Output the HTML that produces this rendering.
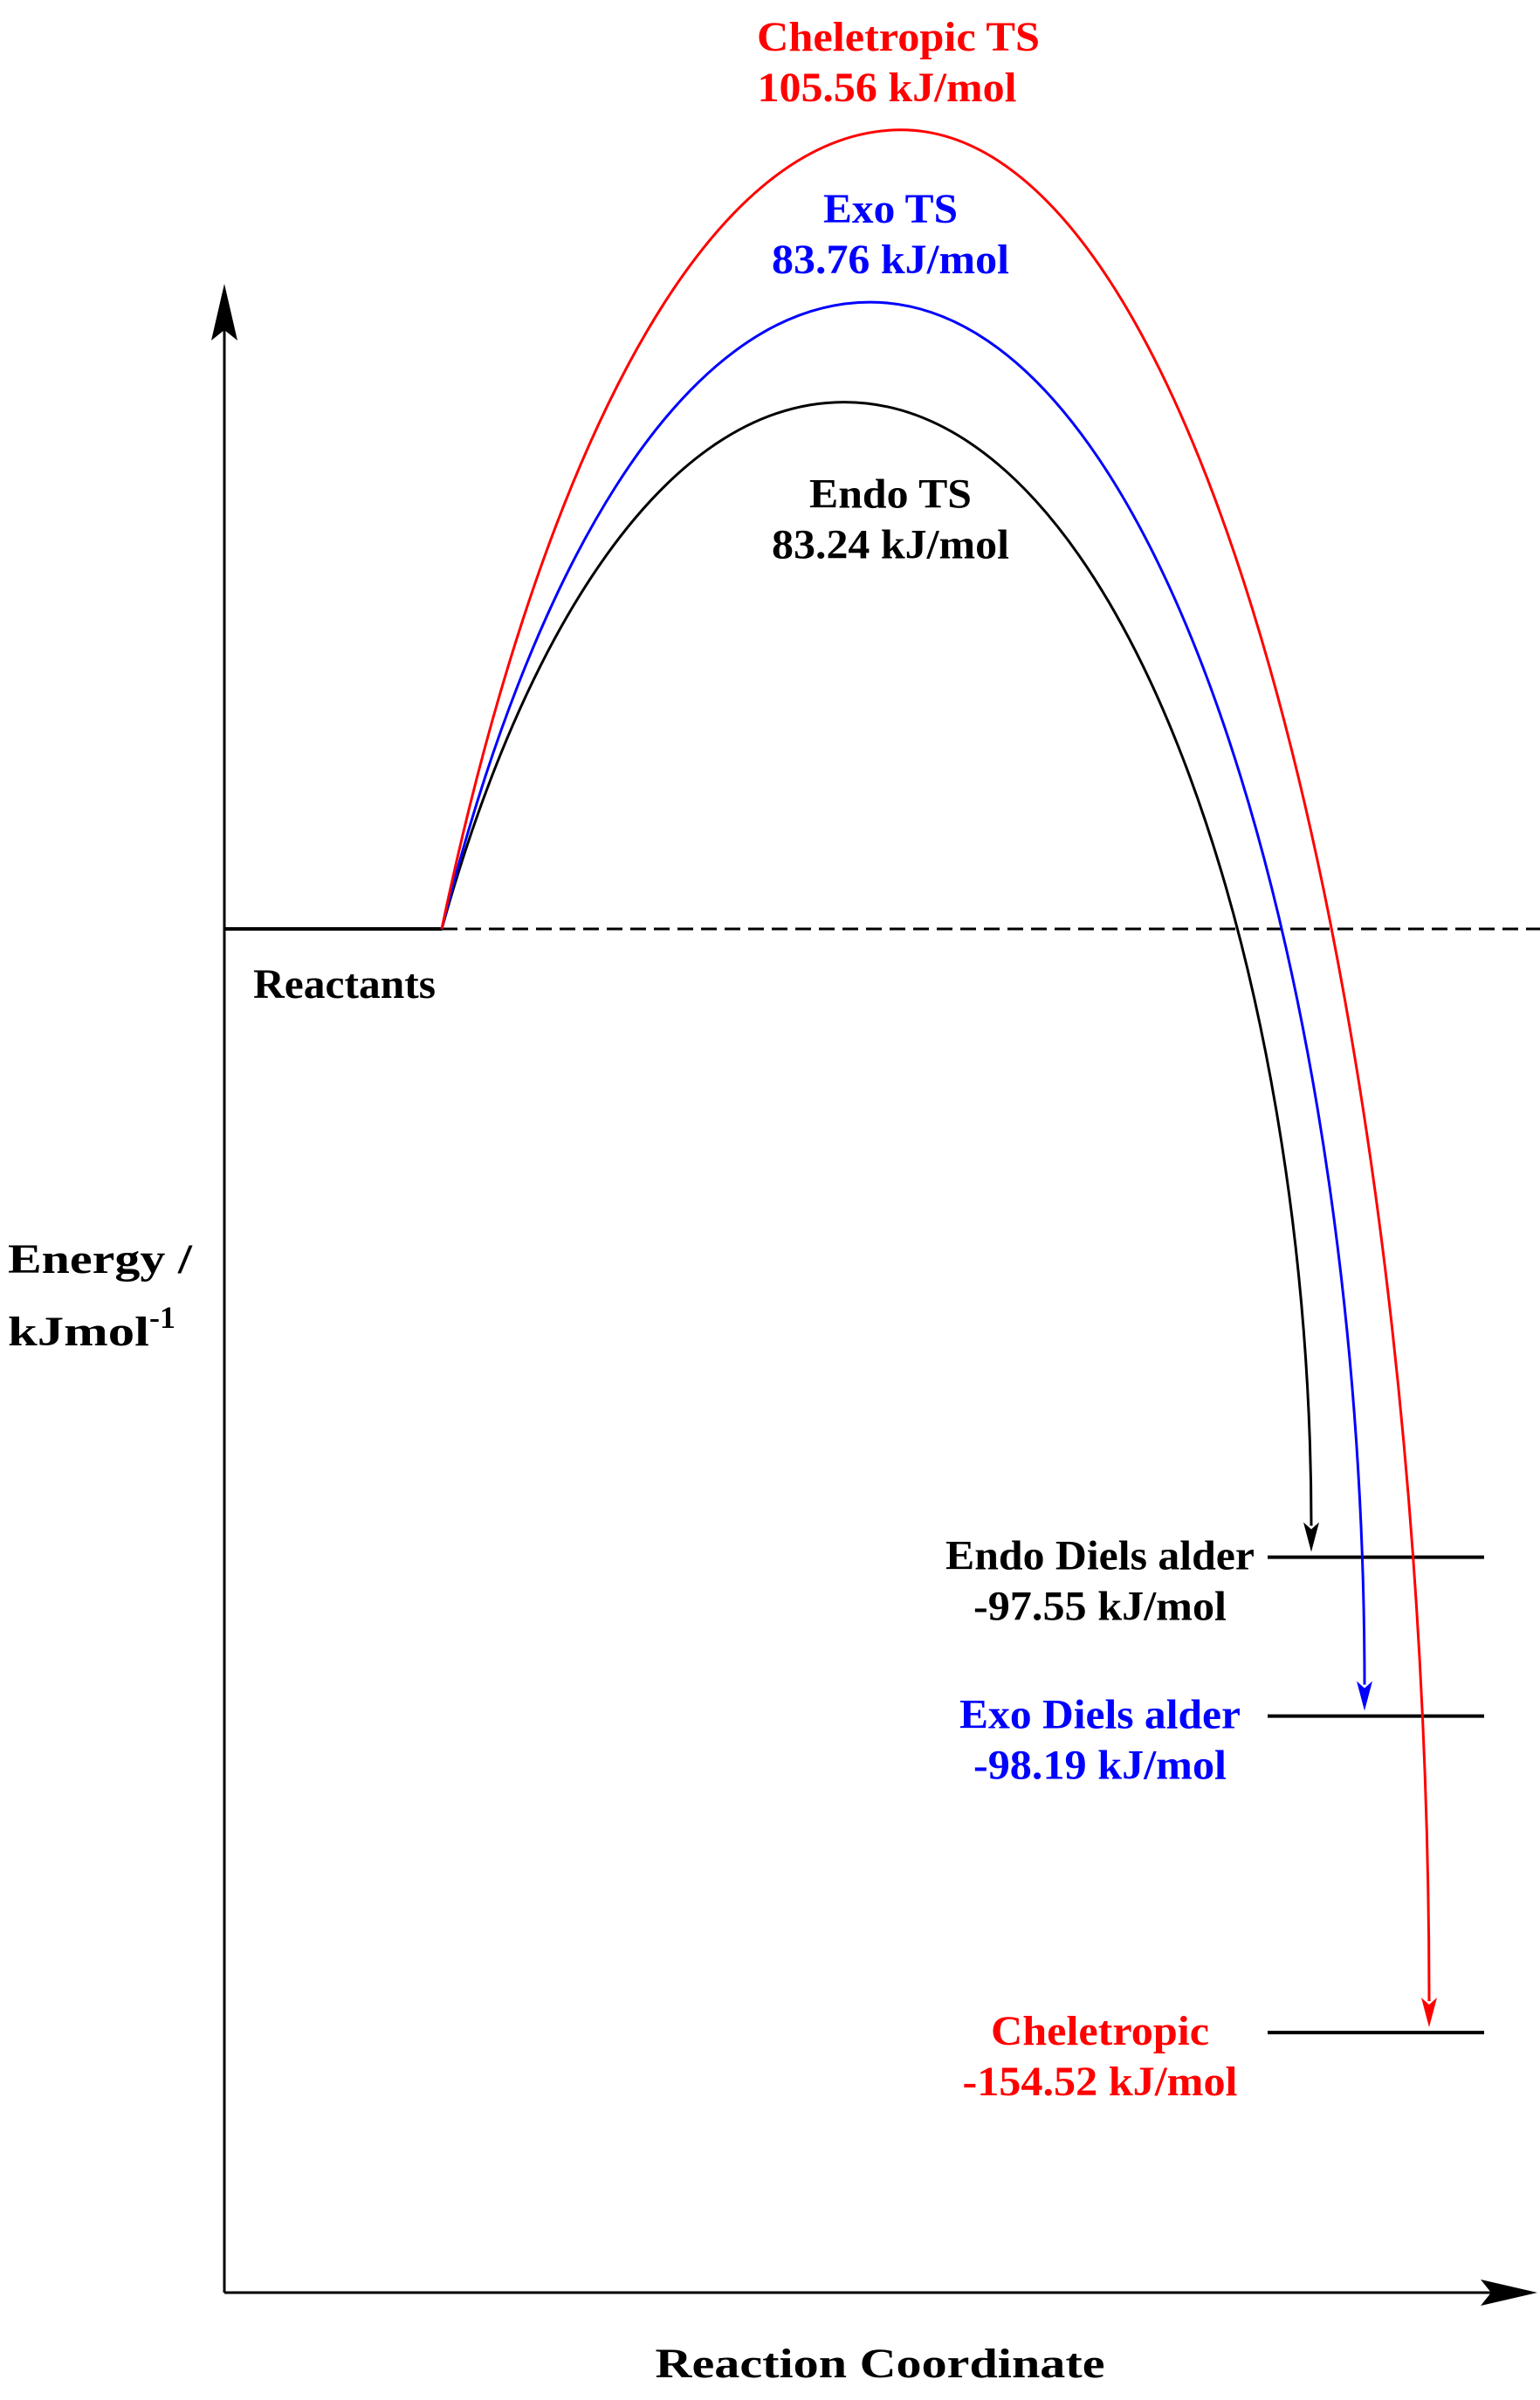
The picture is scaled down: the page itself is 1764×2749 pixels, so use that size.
<!DOCTYPE html>
<html><head><meta charset="utf-8"><style>
html,body{margin:0;padding:0;background:#fff;}
svg{display:block;}
text{font-family:"Liberation Serif",serif;font-weight:bold;font-size:48px;}
</style></head><body>
<svg id="chart" width="1764" height="2749" viewBox="0 0 1764 2749" xmlns="http://www.w3.org/2000/svg">
<rect width="1764" height="2749" fill="#fff"/>
<line x1="257" y1="2626" x2="257" y2="350" stroke="#000" stroke-width="3"/>
<polygon points="257,325 242,390 257,378 272,390" fill="#000"/>
<line x1="257" y1="2626" x2="1735" y2="2626" stroke="#000" stroke-width="3"/>
<polygon points="1761,2626 1696,2611 1708,2626 1696,2641" fill="#000"/>
<text x="9" y="1458" textLength="211" lengthAdjust="spacingAndGlyphs">Energy /</text>
<text x="9" y="1541"><tspan textLength="162" lengthAdjust="spacingAndGlyphs">kJmol</tspan><tspan dy="-20" font-size="36">-1</tspan></text>
<text x="1008" y="2723" text-anchor="middle" textLength="515" lengthAdjust="spacingAndGlyphs">Reaction Coordinate</text>
<g id="marks"></g>
</svg>
<script>
// Data (kJ/mol)
const pathNames = ["Endo", "Exo", "Cheletropic"];
const pathColors = ["#000000", "#0000ff", "#ff0000"];
const tsEnergies = [83.24, 83.76, 105.56];
const productEnergies = [-97.55, -98.19, -154.52];
// Levels as drawn in the picture (diagram not to scale) in kJ/mol
const tsDrawnLevels = [69.6, 82.8, 105.56];
const productDrawnLevels = [-83.0, -104.0, -145.8];
const tsLabels = ["Endo TS", "Exo TS", "Cheletropic TS"];
const productLabels = ["Endo Diels alder", "Exo Diels alder", "Cheletropic"];

const NS = "http://www.w3.org/2000/svg";
const g = document.getElementById("marks");
const yZero = 1064, pxPerKJ = 8.67;
function yScale(e){ return yZero - e * pxPerKJ; }
const startX = 506;
const peakX = [967, 997, 1032];
const endX = [1502, 1563, 1637];
const lvlX1 = 1452, lvlX2 = 1700;

function mk(tag, attrs){ const el = document.createElementNS(NS, tag); for (const k in attrs) el.setAttribute(k, attrs[k]); g.appendChild(el); return el; }

let el = mk("line", {x1:257, y1:yScale(0), x2:startX, y2:yScale(0), stroke:"#000", "stroke-width":4});


el = mk("line", {x1:startX, y1:yScale(0), x2:1764, y2:yScale(0), stroke:"#000", "stroke-width":3, "stroke-dasharray":"18 9"});


el = mk("text", {x:290, y:1143, textLength:209, lengthAdjust:"spacingAndGlyphs"});
el.textContent = "Reactants";



for (let i = 0; i < 3; i++) {
  const ly = yScale(productDrawnLevels[i]);
  el = mk("line", {x1:lvlX1, y1:ly, x2:lvlX2, y2:ly, stroke:"#000", "stroke-width":4});
  
  
}
for (let i = 0; i < 3; i++) {
  const y0 = yScale(0), py = yScale(tsDrawnLevels[i]), ey = yScale(productDrawnLevels[i]) - 6;
  const px = peakX[i], ex = endX[i];
  const W = px - startX, H = y0 - py;
  const a = 0.6 * (ex - px), b = 0.5 * (ey - py);
  const d = `M${startX},${y0} C${startX+0.2*W},${y0-0.55*H} ${px-0.45*W},${py} ${px},${py} C${px+a},${py} ${ex},${ey-b} ${ex},${ey-30}`;
  el = mk("path", {d:d, fill:"none", stroke:pathColors[i], "stroke-width":3});
  
  
  el = mk("polygon", {points:`${ex},${ey} ${ex-9},${ey-34} ${ex},${ey-26} ${ex+9},${ey-34}`, fill:pathColors[i]});
  
  
}
const tsLabelX = [1020, 1020, 1029];
const tsTitleW = [186, 154, 324];
for (let i = 0; i < 3; i++) {
  const py = yScale(tsDrawnLevels[i]);
  const yb = i === 0 ? py + 121 : py - 91;
  el = mk("text", {x:tsLabelX[i], y:yb, "text-anchor":"middle", fill:pathColors[i], textLength:tsTitleW[i], lengthAdjust:"spacingAndGlyphs"});
  el.textContent = tsLabels[i];
  
  
  el = mk("text", {x:tsLabelX[i] + (i===2 ? -13 : 0), y:yb + 58, "text-anchor":"middle", fill:pathColors[i], textLength:(i===2?297:272), lengthAdjust:"spacingAndGlyphs"});
  el.textContent = tsEnergies[i].toFixed(2) + " kJ/mol";
  
  
}
const prodTitleW = [354, 322, 250];
const prodValW = [290, 290, 315];
for (let i = 0; i < 3; i++) {
  const ly = yScale(productDrawnLevels[i]);
  el = mk("text", {x:1260, y:ly + 14, "text-anchor":"middle", fill:pathColors[i], textLength:prodTitleW[i], lengthAdjust:"spacingAndGlyphs"});
  el.textContent = productLabels[i];
  
  
  el = mk("text", {x:1260, y:ly + 72, "text-anchor":"middle", fill:pathColors[i], textLength:prodValW[i], lengthAdjust:"spacingAndGlyphs"});
  el.textContent = productEnergies[i].toFixed(2) + " kJ/mol";
  
  
}
</script>
</body></html>
